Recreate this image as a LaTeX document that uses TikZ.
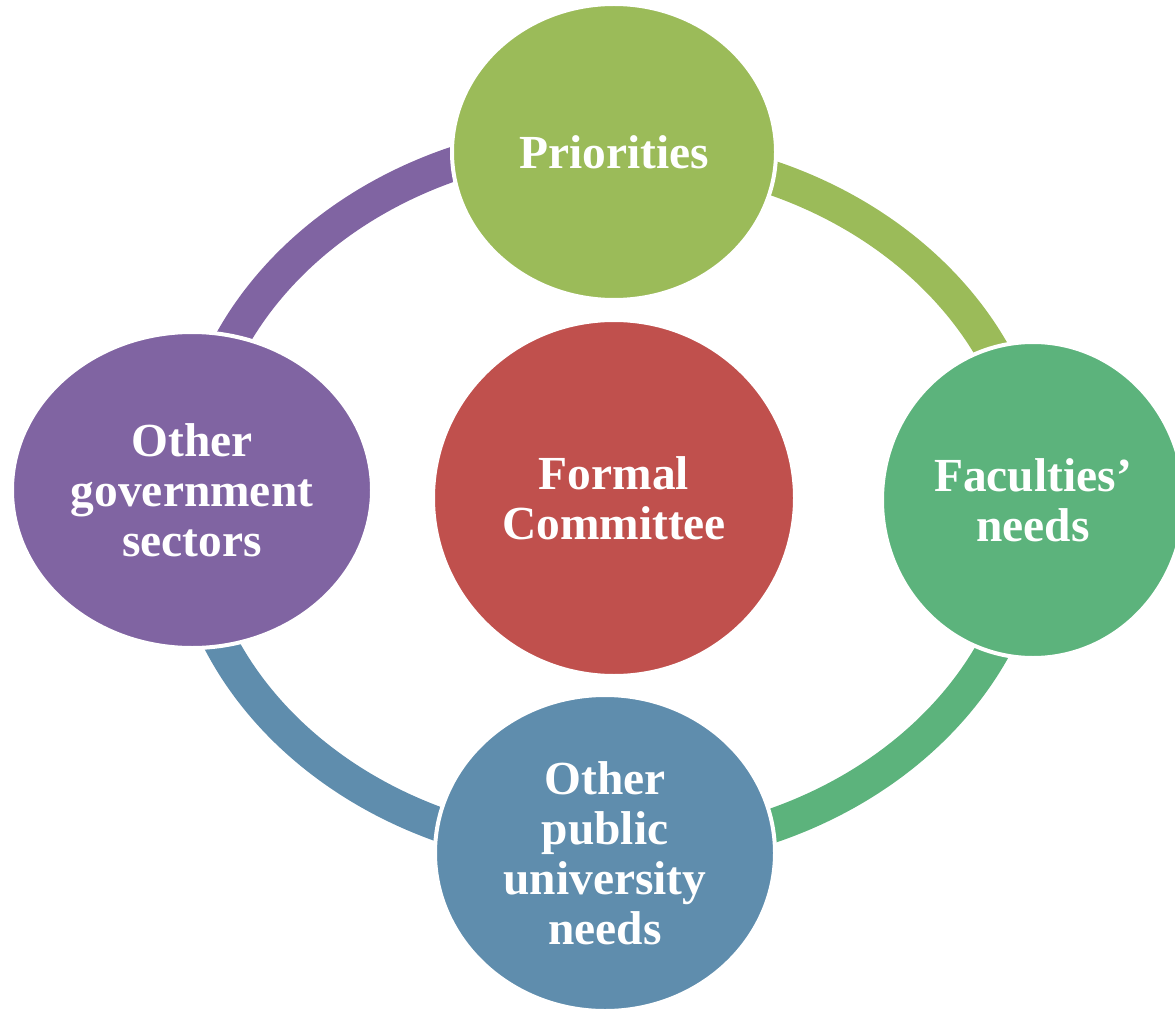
\documentclass[tikz,border=0pt]{standalone}
\usepackage{fontspec}
\setmainfont{Liberation Serif}
\usetikzlibrary{positioning,shapes.geometric,backgrounds}

\definecolor{prioGreen}{HTML}{9BBB59}
\definecolor{facGreen}{HTML}{5CB37C}
\definecolor{pubBlue}{HTML}{5F8DAD}
\definecolor{govPurple}{HTML}{8064A2}
\definecolor{commRed}{HTML}{C0504D}

\tikzset{
  blob/.style={ellipse, draw=white, line width=0.08cm, text=white, align=center,
    inner sep=0pt, font=\bfseries\fontsize{27}{28.5}\selectfont},
  ring/.style={line width=0.68cm}
}

\begin{document}
\begin{tikzpicture}
	\useasboundingbox (0,0) rectangle (23.5,20.22);
	\node[blob, fill=commRed, minimum width=7.24cm, minimum height=7.12cm] (comm) at (12.28,10.26) {Formal\\Committee};
	\node[blob, fill=prioGreen, minimum width=6.48cm, minimum height=5.92cm] (prio) at (12.28,17.18) {Priorities};
	\node[blob, fill=facGreen, minimum width=6.04cm, minimum height=6.32cm] (fac) at (20.66,10.22) {Faculties’\\needs};
	\node[blob, fill=pubBlue, minimum width=6.8cm, minimum height=6.32cm] (pub) at (12.10,3.16) {Other\\public\\university\\needs};
	\node[blob, fill=govPurple, minimum width=7.2cm, minimum height=6.32cm] (gov) at (3.84,10.42) {Other\\government\\sectors};
	% cycle arcs behind the nodes
	\begin{scope}[on background layer]
	  \draw[ring, prioGreen] (prio.center) arc[start angle=90, end angle=0, x radius=8.4, y radius=7.04];
	  \draw[ring, facGreen] (fac.center) arc[start angle=0, end angle=-90, x radius=8.4, y radius=7.04];
	  \draw[ring, pubBlue] (pub.center) arc[start angle=270, end angle=180, x radius=8.4, y radius=7.04];
	  \draw[ring, govPurple] (gov.center) arc[start angle=180, end angle=90, x radius=8.4, y radius=7.04];
	\end{scope}
\end{tikzpicture}
\end{document}
